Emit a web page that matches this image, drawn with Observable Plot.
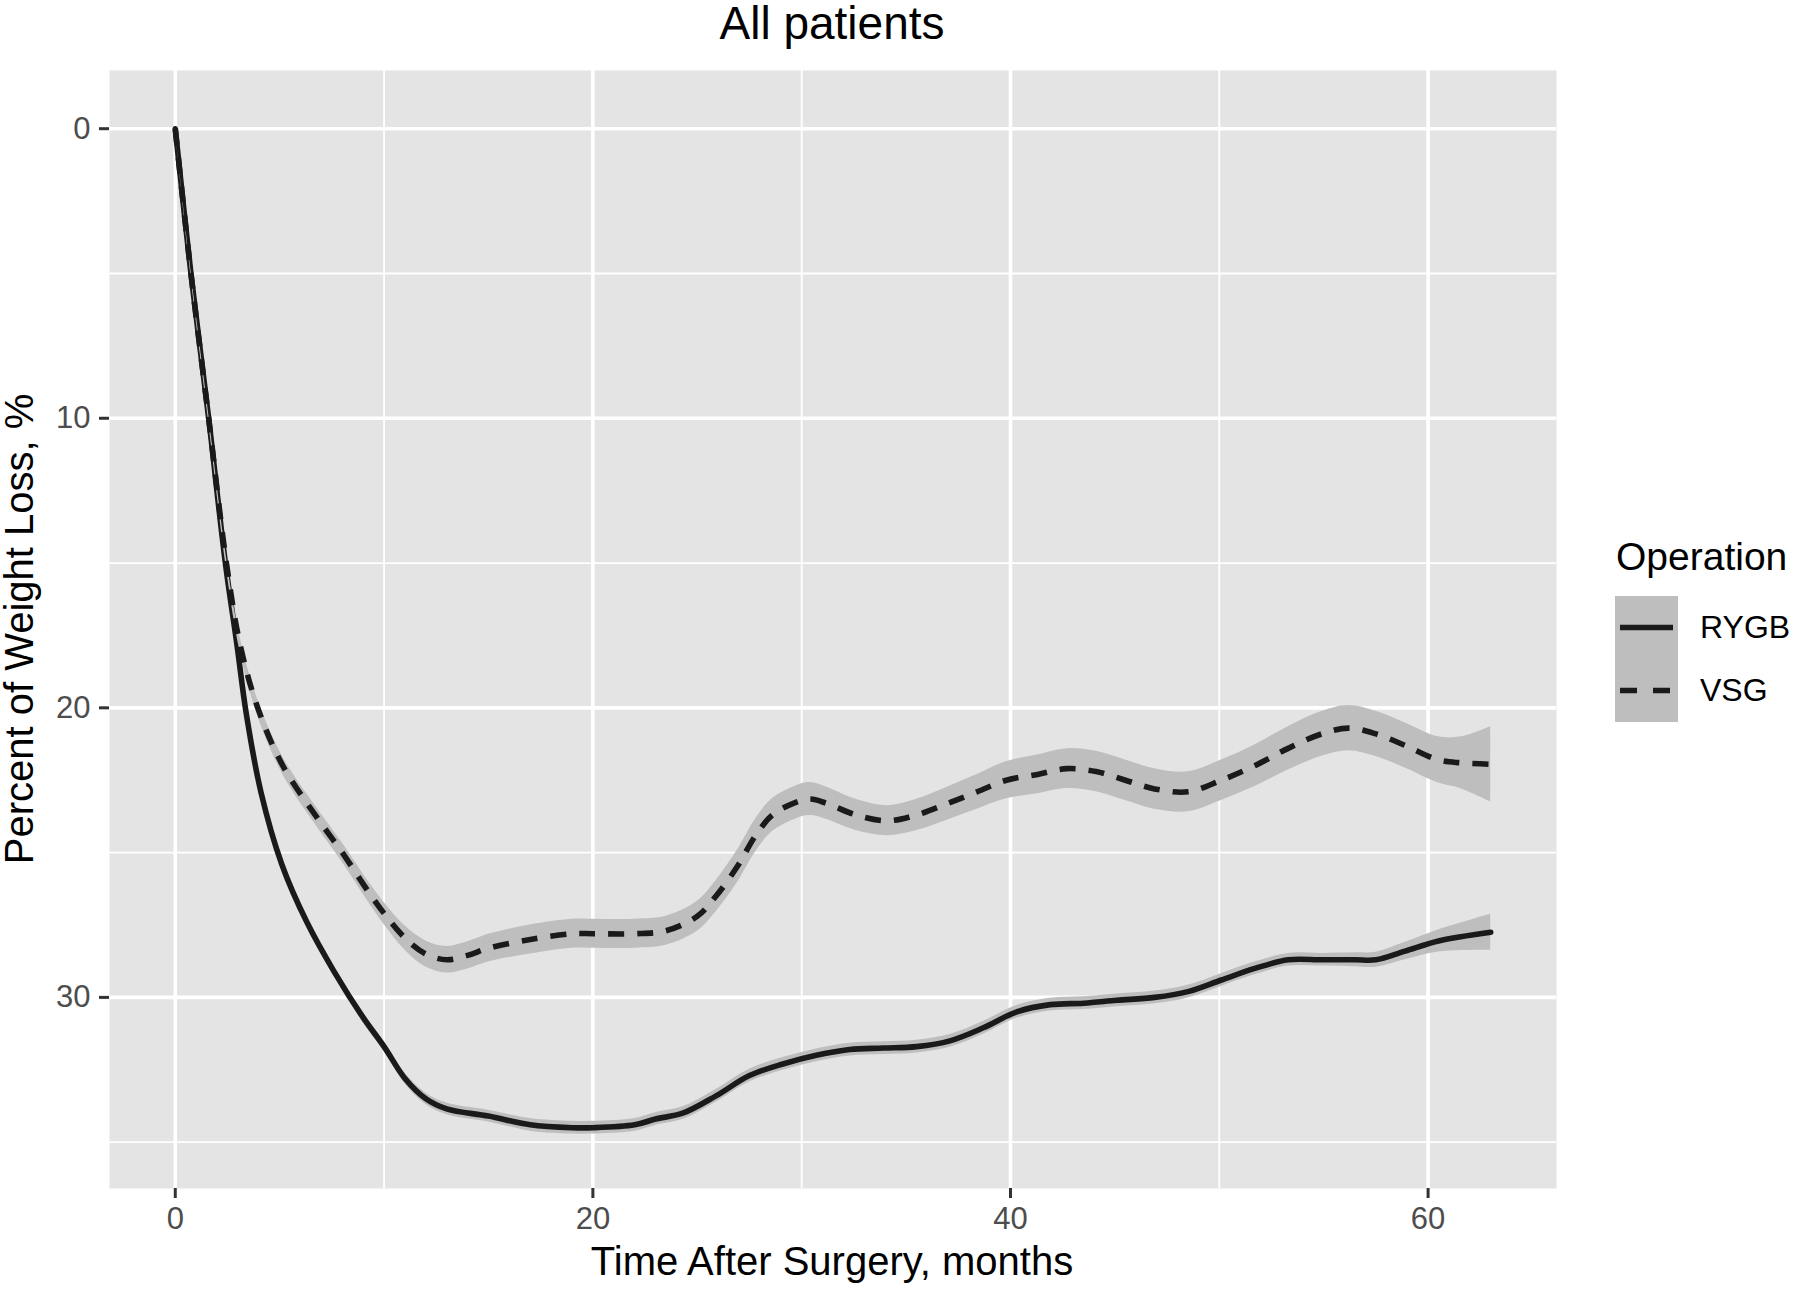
<!DOCTYPE html>
<html><head><meta charset="utf-8">
<script src="https://cdn.jsdelivr.net/npm/d3@7"></script>
<script src="https://cdn.jsdelivr.net/npm/@observablehq/plot@0.6"></script>
<style>
body{margin:0;background:#fff;}
#chart{position:relative;width:1800px;height:1293px;}
</style></head><body><div id="chart"></div>
<script>
// ---- data ----
const rygbMonths = [0, 0.75, 1.6, 2.4, 2.95, 3.4, 4.1, 5.1, 6.3, 7.6, 9.0, 10, 11, 12, 13, 15, 17, 19, 20, 22, 23, 24.3, 25.9, 27.5, 29.1, 30.7, 32.3, 33.9, 35.5, 37.1, 38.7, 40.3, 41.9, 43.5, 45.1, 46.9, 48.5, 50.1, 51.7, 53.3, 54.9, 56.5, 57.5, 58.9, 60.5, 63];
const rygbLoss   = [0, 5, 10, 15, 17.8, 20.2, 22.9, 25.4, 27.4, 29.1, 30.7, 31.7, 32.8, 33.5, 33.85, 34.1, 34.4, 34.5, 34.5, 34.4, 34.2, 34.0, 33.4, 32.7, 32.3, 32.0, 31.8, 31.75, 31.7, 31.5, 31.05, 30.5, 30.25, 30.2, 30.1, 30.0, 29.8, 29.4, 29.0, 28.7, 28.7, 28.7, 28.7, 28.4, 28.05, 27.75];
const rygbCI     = [0, 0.05, 0.08, 0.1, 0.11, 0.12, 0.14, 0.15, 0.16, 0.17, 0.18, 0.18, 0.19, 0.2, 0.2, 0.2, 0.22, 0.22, 0.22, 0.22, 0.22, 0.22, 0.22, 0.22, 0.22, 0.22, 0.22, 0.22, 0.22, 0.22, 0.22, 0.22, 0.22, 0.22, 0.22, 0.22, 0.22, 0.22, 0.22, 0.22, 0.22, 0.24, 0.26, 0.3, 0.38, 0.62];

const vsgMonths = [0, 0.75, 1.6, 2.45, 3.1, 3.95, 5.15, 6.8, 8.0, 9.2, 10, 11, 12, 13, 14, 15, 17, 19, 20, 22, 23.5, 25, 25.9, 26.9, 27.8, 28.6, 29.6, 30.4, 31.2, 32.6, 34.1, 35.5, 37, 38.4, 39.8, 41.3, 42.7, 44.1, 45.5, 46.9, 48.5, 50.1, 51.7, 53.3, 54.9, 56.2, 57.5, 58.9, 60.5, 61.6, 63];
const vsgLoss   = [0, 5, 10, 15, 17.8, 20, 22, 23.8, 25, 26.3, 27.1, 27.95, 28.5, 28.7, 28.55, 28.3, 28.0, 27.8, 27.8, 27.8, 27.7, 27.2, 26.5, 25.5, 24.4, 23.7, 23.3, 23.15, 23.3, 23.7, 23.9, 23.7, 23.3, 22.9, 22.5, 22.3, 22.1, 22.2, 22.5, 22.8, 22.9, 22.5, 22.0, 21.4, 20.9, 20.7, 20.9, 21.3, 21.8, 21.9, 21.95];
const vsgCI     = [0, 0.1, 0.15, 0.2, 0.25, 0.28, 0.3, 0.32, 0.33, 0.35, 0.38, 0.42, 0.45, 0.46, 0.47, 0.48, 0.5, 0.5, 0.5, 0.5, 0.5, 0.52, 0.54, 0.56, 0.57, 0.57, 0.57, 0.57, 0.56, 0.54, 0.52, 0.54, 0.57, 0.6, 0.64, 0.67, 0.69, 0.7, 0.7, 0.7, 0.69, 0.7, 0.72, 0.75, 0.77, 0.78, 0.78, 0.78, 0.8, 0.9, 1.3];

const operations = ["RYGB", "VSG"];
const xMajor = [0, 20, 40, 60];
const xMinor = [10, 30, 50];
const yMajor = [0, 10, 20, 30];
const yMinor = [5, 15, 25, 35];
const titleText = "All patients";
const xTitle = "Time After Surgery, months";
const yTitle = "Percent of Weight Loss, %";
const legendTitle = "Operation";

// ---- build table ----
function rowsFor(name, months, loss, ci) {
  return months.map((m, i) => ({operation: name, month: m, loss: loss[i], lo: loss[i] - ci[i], hi: loss[i] + ci[i]}));
}
const rygb = rowsFor("RYGB", rygbMonths, rygbLoss, rygbCI);
const vsg = rowsFor("VSG", vsgMonths, vsgLoss, vsgCI);

const FONT = "'Liberation Sans', Arial, Helvetica, sans-serif";
const BG = "#e4e4e4", RIB = "#bebebe", INK = "#1a1a1a";
const LW = 5.6, DASH = "16,13";

const plot = Plot.plot({
  width: 1800, height: 1293,
  marginLeft: 109, marginRight: 244, marginTop: 70, marginBottom: 105,
  style: {fontFamily: FONT, background: "white", overflow: "visible"},
  x: {domain: [-3.15, 66.15]},
  y: {domain: [-2.01, 36.6], reverse: true},
  marks: [
    Plot.frame({fill: BG, stroke: null}),
    Plot.ruleX(xMinor, {stroke: "white", strokeWidth: 1.8}),
    Plot.ruleY(yMinor, {stroke: "white", strokeWidth: 1.8}),
    Plot.ruleX(xMajor, {stroke: "white", strokeWidth: 3.6}),
    Plot.ruleY(yMajor, {stroke: "white", strokeWidth: 3.6}),
    Plot.areaY(rygb, {x: "month", y1: "lo", y2: "hi", fill: RIB, curve: "catmull-rom"}),
    Plot.line(rygb, {x: "month", y: "loss", stroke: INK, strokeWidth: LW, curve: "catmull-rom"}),
    Plot.areaY(vsg, {x: "month", y1: "lo", y2: "hi", fill: RIB, curve: "catmull-rom"}),
    Plot.line(vsg, {x: "month", y: "loss", stroke: INK, strokeWidth: LW, strokeDasharray: DASH, strokeLinecap: "butt", curve: "catmull-rom"}),
    Plot.axisX(xMajor, {tickSize: 10, tickPadding: 8, fontSize: 31, stroke: "#333333", fill: "#4d4d4d", strokeWidth: 3, label: null}),
    Plot.axisY(yMajor, {tickSize: 10, tickPadding: 9, fontSize: 31, stroke: "#333333", fill: "#4d4d4d", strokeWidth: 3, label: null})
  ]
});
document.getElementById("chart").appendChild(plot);

// ---- titles and legend ----
const svg = d3.select(plot);
function txt(x, y, s, size, anchor, extra) {
  const t = svg.append("text").attr("x", x).attr("y", y).text(s)
    .attr("font-family", FONT).attr("font-size", size).attr("fill", "#000")
    .attr("text-anchor", anchor);
  if (extra) extra(t);
  return t;
}
txt(832, 39, titleText, 46, "middle");
txt(832, 1275, xTitle, 40, "middle");
txt(0, 0, yTitle, 40, "middle", t => t.attr("transform", "translate(33,629) rotate(-90)"));

// legend
txt(1616, 570, legendTitle, 39, "start");
const lg = svg.append("g");
operations.forEach((op, i) => {
  const y0 = 596 + i * 63;
  lg.append("rect").attr("x", 1615).attr("y", y0).attr("width", 63).attr("height", 63).attr("fill", RIB);
  lg.append("line").attr("x1", 1620).attr("x2", 1673).attr("y1", y0 + 31.5).attr("y2", y0 + 31.5)
    .attr("stroke", INK).attr("stroke-width", LW)
    .attr("stroke-dasharray", op === "VSG" ? "17,16" : null);
  txt(1700, y0 + 42, op, 32, "start");
});
</script>
</body></html>
